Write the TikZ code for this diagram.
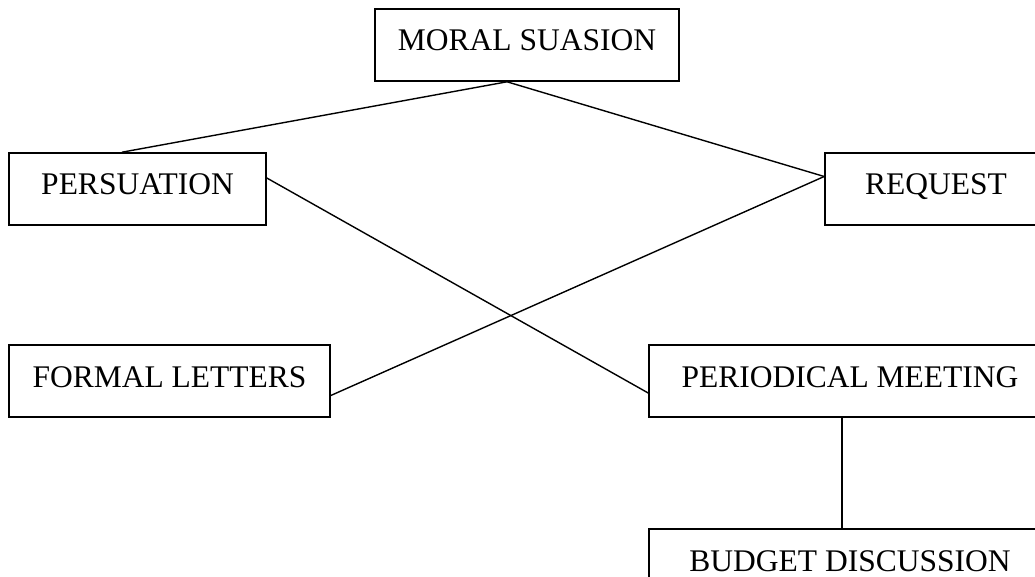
\documentclass[tikz,border=0pt]{standalone}
\usepackage{fontspec}
\setmainfont{Liberation Serif}
\usetikzlibrary{positioning}

\begin{document}
\begin{tikzpicture}
  [x=1pt, y=1pt,
   node distance=184pt and 400pt,
   every node/.style={font=\fontsize{31.5}{36}\selectfont}]
  \tikzset{
    base/.style={
      on grid,
      align=center,
      inner xsep=0pt, inner ysep=20pt,
      text height=22pt, text depth=10pt,
    },
    boite/.style={
      base,
      rectangle,
      draw=black, line width=1.6pt,
      minimum height=72pt,
    },
    lien/.style={draw, line width=1.4pt},
  }
  \clip (0,0) rectangle (1035,576);

  \node[boite, minimum width=304pt] (moral)      at (527,531)   {MORAL SUASION};
  \node[boite, minimum width=257pt] (persua)     at (137.5,387) {PERSUATION};
  \node[boite, minimum width=222pt] (request)    at (936,387)   {REQUEST};
  \node[boite, minimum width=321pt] (formal)     at (169.5,195) {FORMAL LETTERS};
  \node[boite, minimum width=402pt] (periodical) at (850,195)   {PERIODICAL MEETING};
  \node[boite, minimum width=402pt, below=of periodical] (budget) {BUDGET DISCUSSION};

  \draw[lien] ([xshift=-20pt]moral.south) -- ([xshift=-15.5pt]persua.north);
  \draw[lien] ([xshift=-20pt]moral.south) -- ([yshift=12.5pt]request.west);
  \draw[lien] ([yshift=11pt]persua.east) -- ([yshift=-12pt]periodical.west);
  \draw[lien] ([yshift=-14.5pt]formal.east) -- ([yshift=12.5pt]request.west);
  \draw[lien] ([xshift=-8pt]periodical.south) -- ([xshift=-8pt]budget.north);
\end{tikzpicture}
\end{document}
